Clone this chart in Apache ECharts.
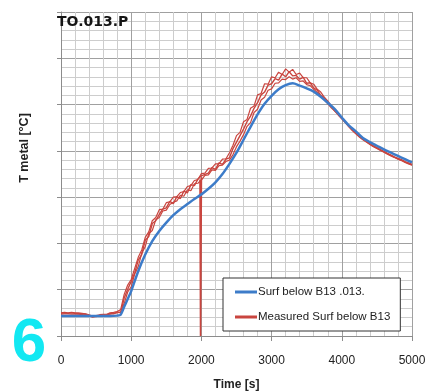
<!DOCTYPE html>
<html>
<head>
<meta charset="utf-8">
<script src="https://cdn.jsdelivr.net/npm/echarts@6/dist/echarts.min.js"></script>
<style>html,body{margin:0;padding:0;background:#fff}#c{width:430px;height:391px}</style>
</head>
<body>
<div id="c"></div>
<script>
const xTicks = [0, 1000, 2000, 3000, 4000, 5000];
const blueName = 'Surf below B13 .013.';
const redName = 'Measured Surf below B13';
const titleText = 'TO.013.P';
const yTitle = 'T metal [°C]';
const xTitle = 'Time [s]';

const blueT = [0,100,200,300,400,500,600,700,800,850,900,950,1000,1100,1200,1300,1400,1500,1600,1700,1800,1900,2000,2100,2200,2300,2400,2500,2600,2700,2800,2900,3000,3100,3200,3300,3400,3500,3600,3700,3800,3900,4000,4100,4200,4300,4400,4500,4600,4700,4800,4900,5000];
const blueV = [43,43,43,43,43,43,43,43,44,46,63,80,97,140,176,205,227,245,261,274,285,296,306,318,332,350,372,396,424,452,479,502,519,533,542,546,541,535,528,517,504,490,472,455,442,428,419,411,403,396,389,382,375];

const redT = [0,50,100,150,200,250,300,350,400,450,500,550,600,650,700,750,800,850,900,950,1000,1050,1100,1150,1200,1250,1300,1350,1400,1450,1500,1550,1600,1650,1700,1750,1800,1850,1900,1950,2000,2050,2100,2150,2200,2250,2300,2350,2400,2450,2500,2550,2600,2650,2700,2750,2800,2850,2900,2950,3000,3050,3100,3150,3200,3250,3300,3350,3400,3450,3500,3550,3600,3650,3700,3750,3800,3850,3900,3950,4000,4050,4100,4150,4200,4250,4300,4350,4400,4450,4500,4550,4600,4650,4700,4750,4800,4850,4900,4950,5000];
const redA = [49,50,49,50,49,48,48,47,44,41,43,44,46,45,49,48,52,50,82,101,118,136,164,176,207,215,243,249,263,274,277,291,286,301,297,313,309,327,325,339,346,349,352,364,360,374,371,382,385,405,419,433,447,463,475,492,504,521,527,542,545,556,553,566,560,571,562,563,555,559,546,547,536,531,520,515,503,496,486,480,470,462,453,445,438,431,425,420,415,410,406,402,398,394,390,386,383,380,376,373,370];
const redB = [47,48,48,47,48,47,46,45,43,42,42,44,44,46,47,49,50,52,70,95,106,134,150,179,193,221,228,251,256,270,272,284,289,292,304,302,316,314,329,330,337,347,348,359,358,368,369,377,380,392,409,421,435,453,461,483,490,510,516,531,534,546,547,555,554,560,555,558,550,551,543,541,533,526,518,510,502,493,486,477,469,461,452,444,437,430,424,419,414,409,405,401,397,393,389,386,382,379,375,372,369];
const redC = [50,51,50,51,50,50,49,48,46,43,44,46,47,47,50,51,53,57,90,110,122,146,170,186,213,225,249,256,273,274,288,290,300,301,310,312,323,325,336,338,351,352,362,363,372,372,382,383,396,412,433,440,463,468,492,497,521,524,545,544,560,558,570,565,577,570,576,565,568,558,558,547,544,533,527,516,508,497,490,481,471,463,454,446,439,432,426,421,416,411,407,403,399,395,391,387,384,381,377,374,371];
const spikeT = [1980, 1988, 1992, 2000];
const spikeV = [338, 0, 0, 343];

const pairs = (t, v) => t.map((x, i) => [x, v[i]]);
const BLUE = '#3d7cc9', RED = '#c9453f';
const FONT = 'Liberation Sans, Arial, sans-serif';
const redSeries = (data, w) => ({
  name: redName, type: 'line', data, showSymbol: false, symbol: 'none',
  lineStyle: { color: RED, width: w }, itemStyle: { color: RED }, z: 2
});

const chart = echarts.init(document.getElementById('c'), null, { renderer: 'canvas' });
chart.setOption({
  animation: false,
  backgroundColor: '#ffffff',
  textStyle: { fontFamily: FONT },
  title: {
    text: titleText, left: 52, top: 10,
    textStyle: { fontSize: 14, fontWeight: 'bold', color: '#151515', fontFamily: 'DejaVu Sans, sans-serif' }
  },
  grid: { left: 61, right: 18, top: 12, bottom: 55, containLabel: false, outerBoundsMode: 'none' },
  legend: {
    orient: 'vertical', left: 223, top: 278,
    data: [blueName, redName],
    icon: 'rect', itemWidth: 22, itemHeight: 3, itemGap: 13,
    padding: [8, 10, 8, 12],
    backgroundColor: '#ffffff', borderColor: '#333333', borderWidth: 1,
    textStyle: { fontSize: 11.5, color: '#222', fontFamily: FONT, padding: [0, 0, 0, -4] }
  },
  xAxis: {
    type: 'value', min: 0, max: 5000, interval: 1000,
    name: xTitle, nameLocation: 'middle', nameGap: 43,
    nameTextStyle: { fontSize: 12, fontWeight: 'bold', color: '#222' },
    axisLine: { show: true, lineStyle: { color: '#8c8c8c', width: 1 } },
    axisTick: { show: true, length: 5, lineStyle: { color: '#8c8c8c' } },
    axisLabel: { fontSize: 12, color: '#222', margin: 19, formatter: v => xTicks.includes(v) ? String(v) : '' },
    splitLine: { show: true, lineStyle: { color: '#a0a0a0', width: 1 } },
    minorTick: { show: false, splitNumber: 5 },
    minorSplitLine: { show: true, lineStyle: { color: '#cdcdcd', width: 1 } }
  },
  yAxis: {
    type: 'value', min: 0, max: 700, interval: 100,
    axisLine: { show: true, lineStyle: { color: '#8c8c8c', width: 1 } },
    axisTick: { show: true, length: 4, lineStyle: { color: '#8c8c8c' } },
    axisLabel: { show: false },
    splitLine: { show: true, lineStyle: { color: '#a0a0a0', width: 1 } },
    minorTick: { show: false, splitNumber: 5 },
    minorSplitLine: { show: true, lineStyle: { color: '#cdcdcd', width: 1 } }
  },
  graphic: [
    { type: 'text', x: 25, y: 148, rotation: Math.PI / 2,
      style: { text: yTitle, fontSize: 12.5, fontWeight: 'bold', fill: '#222', align: 'center', verticalAlign: 'middle', fontFamily: FONT } },
    { type: 'text', x: 29, y: 344, z: 100,
      style: { text: '6', fontSize: 62, fontWeight: 'bold', fill: '#12e8f2', align: 'center', verticalAlign: 'middle', fontFamily: FONT } }
  ],
  series: [
    redSeries(pairs(redT, redB), 1.2),
    redSeries(pairs(redT, redC), 1.2),
    redSeries(pairs(redT, redA), 1.4),
    redSeries(pairs(spikeT, spikeV), 1.6),
    { name: blueName, type: 'line', data: pairs(blueT, blueV), showSymbol: false, symbol: 'none', smooth: 0.3,
      lineStyle: { color: BLUE, width: 2.5 }, itemStyle: { color: BLUE }, z: 3 }
  ]
});
</script>
</body>
</html>
